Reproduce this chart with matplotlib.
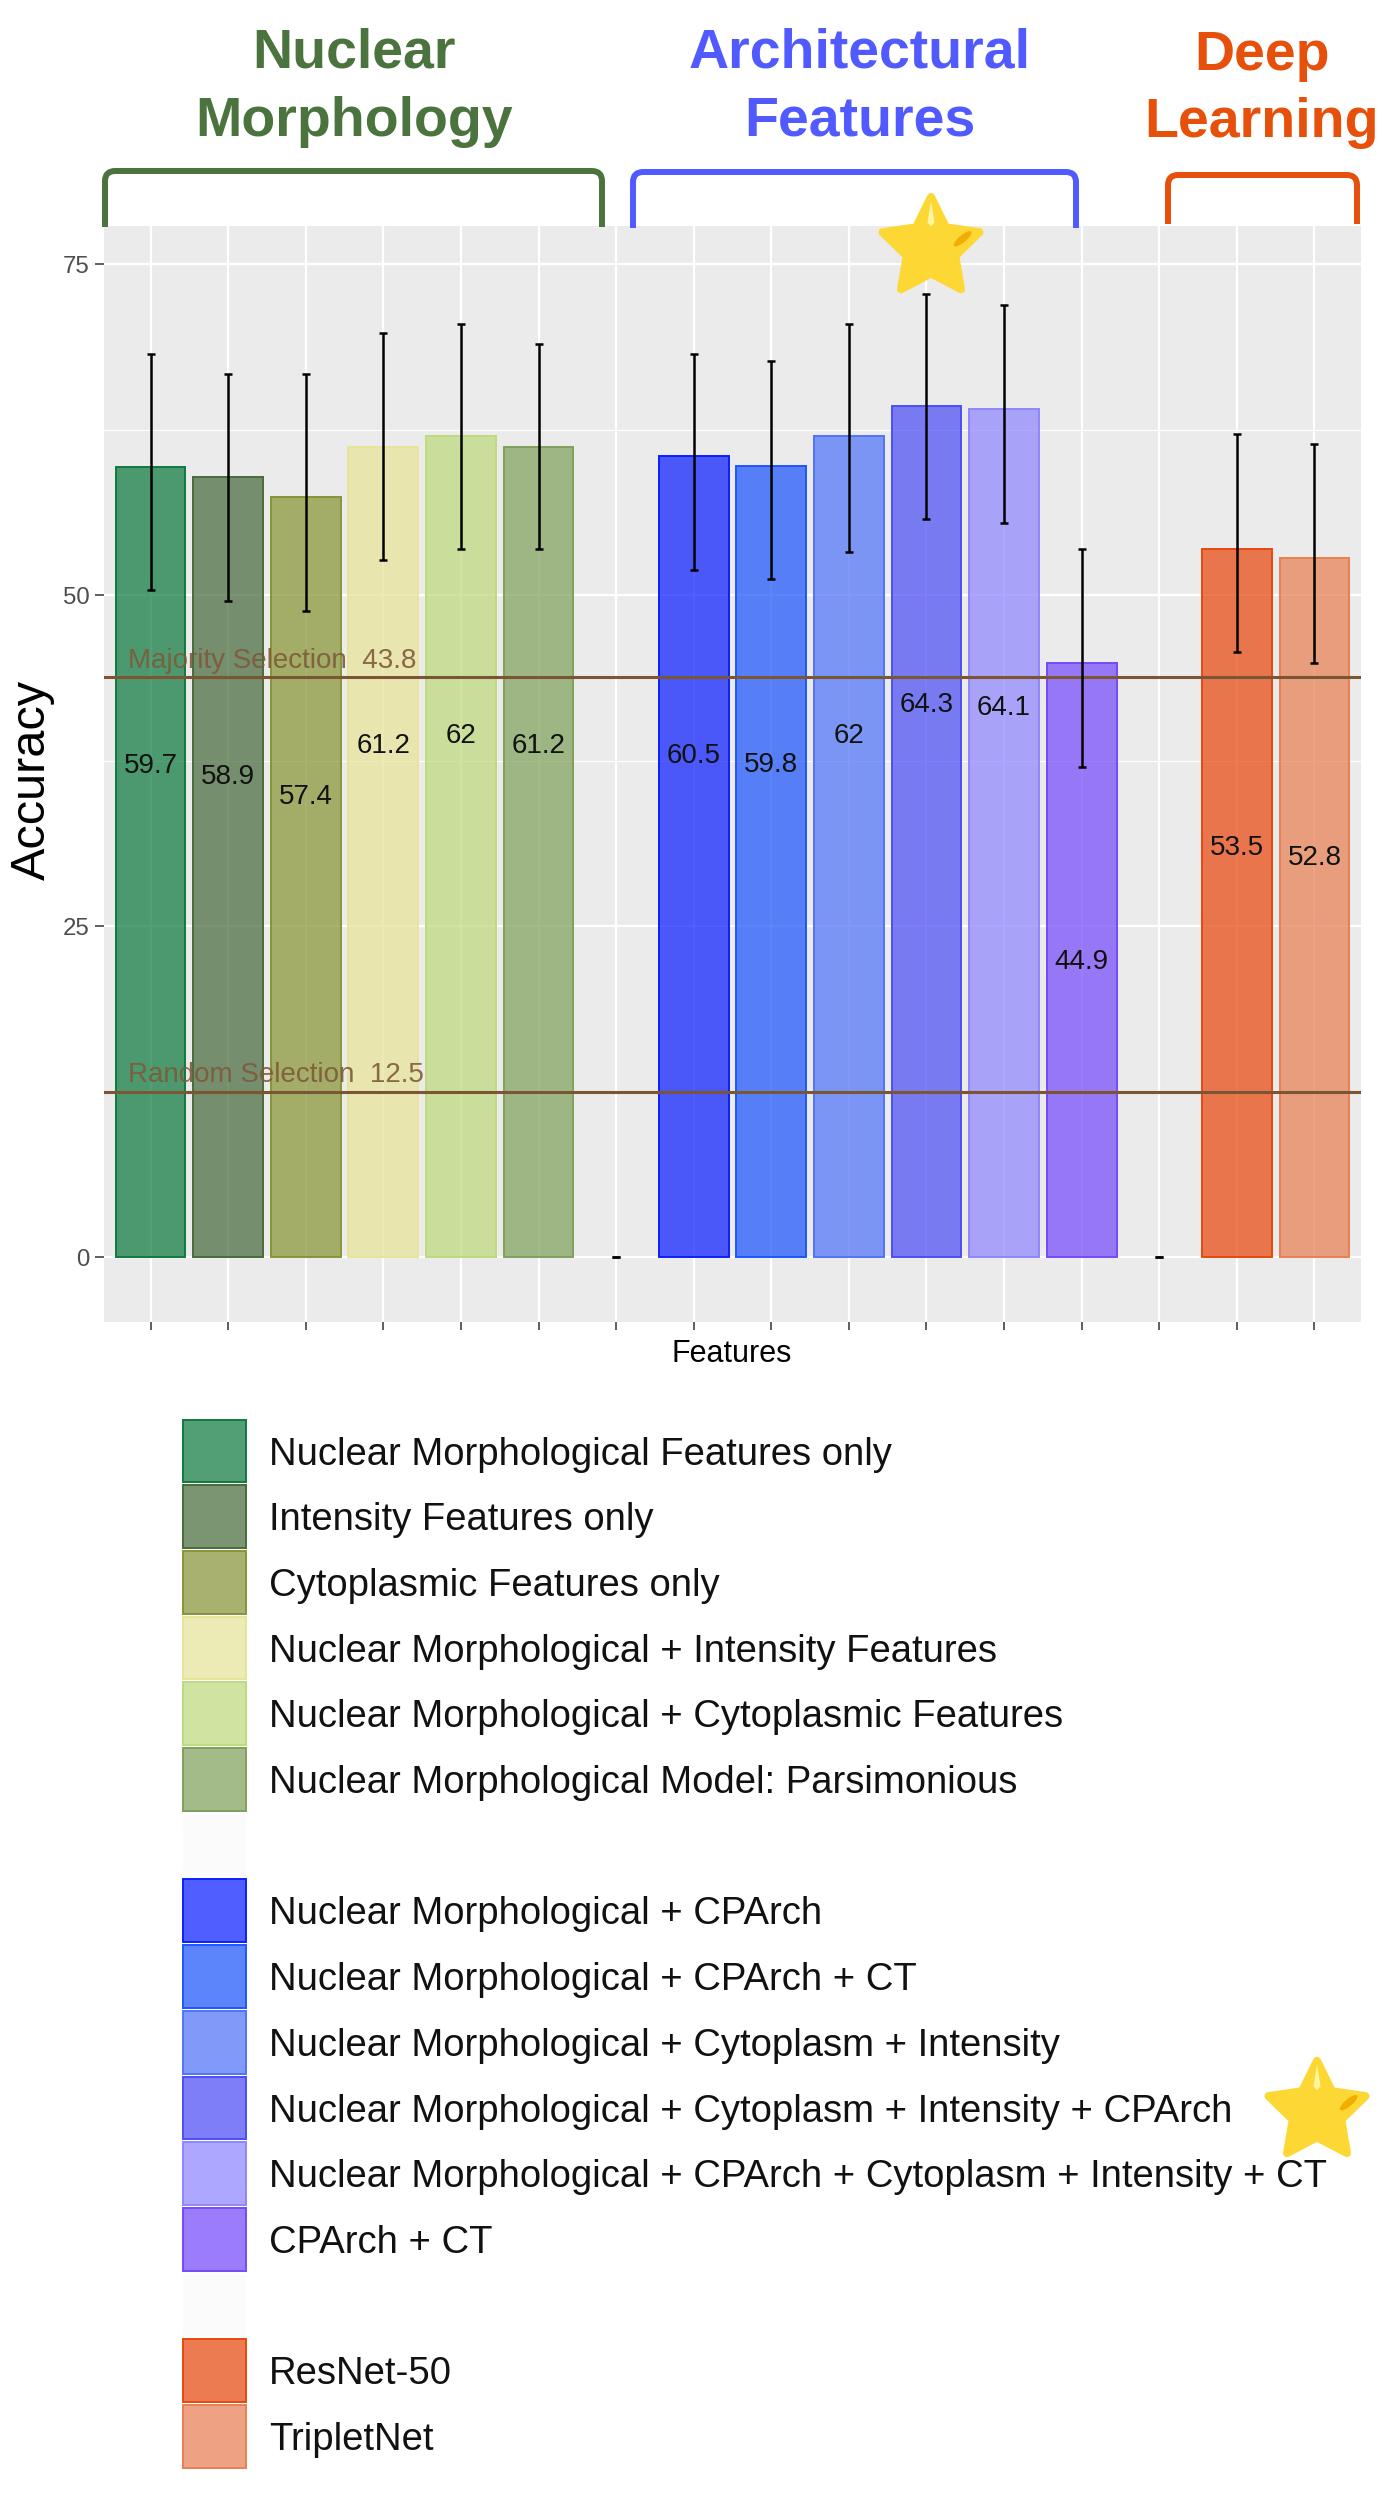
import matplotlib
matplotlib.use("Agg")
import matplotlib.pyplot as plt
import numpy as np
from matplotlib.patches import Rectangle, Polygon, PathPatch
from matplotlib.path import Path
from matplotlib.transforms import offset_copy
from matplotlib.ticker import FixedLocator
from matplotlib.colors import to_rgba

plt.rcParams['font.family'] = ['Liberation Sans', 'DejaVu Sans']

# ---------------- data ----------------
categories = [
    "Nuclear Morphological Features only",
    "Intensity Features only",
    "Cytoplasmic Features only",
    "Nuclear Morphological + Intensity Features",
    "Nuclear Morphological + Cytoplasmic Features",
    "Nuclear Morphological Model: Parsimonious",
    "",
    "Nuclear Morphological + CPArch",
    "Nuclear Morphological + CPArch + CT",
    "Nuclear Morphological + Cytoplasm + Intensity",
    "Nuclear Morphological + Cytoplasm + Intensity + CPArch",
    "Nuclear Morphological + CPArch + Cytoplasm + Intensity + CT",
    "CPArch + CT",
    "",
    "ResNet-50",
    "TripletNet",
]
accuracy = [59.7, 58.9, 57.4, 61.2, 62.0, 61.2, 0.0,
            60.5, 59.8, 62.0, 64.3, 64.1, 44.9, 0.0,
            53.5, 52.8]
err_low = [50.4, 49.6, 48.8, 52.7, 53.5, 53.5, 0.0,
           51.9, 51.2, 53.3, 55.8, 55.5, 37.0, 0.0,
           45.7, 44.9]
err_high = [68.2, 66.7, 66.7, 69.8, 70.5, 69.0, 0.0,
            68.2, 67.7, 70.5, 72.8, 71.9, 53.5, 0.0,
            62.2, 61.4]
palette = ["#107A40", "#486B3C", "#879536", "#E7E499", "#BEDA7D", "#80A05C", "#FFFFFF",
           "#0C1EFF", "#1D56FC", "#5074F9", "#4C4EF6", "#8F86FF", "#754AF9", "#FFFFFF",
           "#E7480E", "#E78053"]
ref_names = ["Majority Selection", "Random Selection"]
ref_values = [43.8, 12.5]
group_titles = [["Nuclear", "Morphology"], ["Architectural", "Features"], ["Deep", "Learning"]]
group_colors = ["#4A733E", "#505AFF", "#E6500A"]
best_model = "Nuclear Morphological + Cytoplasm + Intensity + CPArch"
y_ticks = [0, 25, 50, 75]
y_minor = [12.5, 37.5, 62.5]
label_drop = 22.4   # value labels placed below bar tops

# ---------------- figure ----------------
W, H = 1385, 2500
fig = plt.figure(figsize=(W / 100, H / 100), dpi=100)

def fx(px):
    return px / W

def fy(py):
    return 1 - py / H

ALPHA = 0.72
ax = fig.add_axes([fx(104), fy(1322), 1257 / W, (1322 - 226) / H])
ax.set_facecolor("#EBEBEB")
x = np.arange(1, len(categories) + 1)
ax.set_xlim(0.4, len(categories) + 0.6)
ax.set_ylim(-4.9, 77.9)
ax.set_xticks(x)
ax.set_xticklabels([""] * len(x))
ax.set_yticks(y_ticks)
ax.yaxis.set_minor_locator(FixedLocator(y_minor))
ax.grid(which="major", color="white", lw=1.6)
ax.grid(which="minor", axis="y", color="white", lw=0.8)
ax.set_axisbelow(True)
for s in ax.spines.values():
    s.set_visible(False)
ax.tick_params(axis="y", which="major", length=6.8, width=1.1, color="#333333",
               labelsize=17.3, labelcolor="#4D4D4D", pad=3.5)
ax.tick_params(axis="x", which="major", length=5.4, width=1.1, color="#333333")
ax.tick_params(which="minor", length=0)

acc = np.array(accuracy)
lo = np.array(err_low)
hi = np.array(err_high)
mask = np.array([c != "" for c in categories])

ax.bar(x[mask], acc[mask], width=0.9,
       color=[to_rgba(c, ALPHA) for c, m in zip(palette, mask) if m],
       edgecolor=[c for c, m in zip(palette, mask) if m], linewidth=1.4, zorder=2)

for name, val in zip(ref_names, ref_values):
    ax.axhline(val, color="#7A5634", lw=2.2, zorder=3)
    ax.text(0.708, val + 0.7, f"{name}  {val}", fontsize=20, color="#7E5A3A",
            alpha=0.9, ha="left", va="baseline", zorder=4)

ax.errorbar(x, acc, yerr=[acc - lo, hi - acc], fmt="none", ecolor="black",
            elinewidth=1.8, capsize=2.9, capthick=1.8, zorder=5)

lab_tr = offset_copy(ax.transData, fig=fig, x=0, y=-9.9, units="dots")
for xi, v, m in zip(x, acc, mask):
    if m:
        ax.text(xi, v - label_drop, f"{v:g}", fontsize=20, color="#111111",
                ha="center", va="baseline", transform=lab_tr, zorder=6)

fig.text(fx(32), fy(780), "Accuracy", rotation=90, fontsize=35,
         ha="center", va="center")
fig.text(fx(732), fy(1362), "Features", fontsize=22, ha="center", va="baseline")

# ---------------- group titles and brackets ----------------
title_x = [354, 860, 1262]
title_base = [(68, 136), (68, 136), (70, 137)]
for lines, cx, (b1, b2), col in zip(group_titles, title_x, title_base, group_colors):
    fig.text(fx(cx), fy(b1), lines[0], fontsize=40, fontweight="bold", color=col,
             ha="center", va="baseline")
    fig.text(fx(cx), fy(b2), lines[1], fontsize=40, fontweight="bold", color=col,
             ha="center", va="baseline")

brackets = [(105, 602, 171, 227), (633, 1076, 172, 228), (1168, 1357, 175, 224)]
for (xl, xr, yt, yb), col in zip(brackets, group_colors):
    r = 10
    pts = [(xl, yb), (xl, yt + r), (xl, yt), (xl + r, yt),
           (xr - r, yt), (xr, yt), (xr, yt + r), (xr, yb)]
    codes = [Path.MOVETO, Path.LINETO, Path.CURVE3, Path.CURVE3,
             Path.LINETO, Path.CURVE3, Path.CURVE3, Path.LINETO]
    path = Path([(fx(a), fy(b)) for a, b in pts], codes)
    fig.add_artist(PathPatch(path, facecolor="none", edgecolor=col, lw=4.3,
                             transform=fig.transFigure, capstyle="butt",
                             joinstyle="round"))

# ---------------- stars ----------------
def poly_px(pts, **kw):
    return Polygon([(fx(a), fy(b)) for a, b in pts], closed=True,
                   transform=fig.transFigure, **kw)

def draw_star(cx, cy, R):
    pts = []
    for k in range(10):
        ang = np.pi / 2 + k * np.pi / 5
        rr = R if k % 2 == 0 else R * 0.5
        pts.append((cx + rr * np.cos(ang), cy - rr * np.sin(ang)))
    fig.add_artist(poly_px(pts, facecolor="#FDD835", edgecolor="#FDD835",
                           lw=5.8, joinstyle="round"))
    # highlight on the top arm
    hl = [(cx, cy - 0.93 * R), (cx - 0.07 * R, cy - 0.5 * R),
          (cx, cy - 0.42 * R), (cx + 0.07 * R, cy - 0.5 * R)]
    fig.add_artist(poly_px(hl, facecolor="#FFF59D", edgecolor="none"))
    # shading on the right arm
    t = np.linspace(0, 2 * np.pi, 40)
    a, b, th = 0.22 * R, 0.07 * R, np.deg2rad(-40)
    ex = cx + 0.62 * R + a * np.cos(t) * np.cos(th) - b * np.sin(t) * np.sin(th)
    ey = cy - 0.18 * R + a * np.cos(t) * np.sin(th) + b * np.sin(t) * np.cos(th)
    fig.add_artist(poly_px(list(zip(ex, ey)), facecolor="#F2AE00", edgecolor="none"))

draw_star(931, 248, 51)

# ---------------- legend ----------------
key_top0, key_h = 1418, 65.7
for i, (lab, col) in enumerate(zip(categories, palette)):
    top = key_top0 + i * key_h
    if lab == "":
        fig.add_artist(Rectangle((fx(183), fy(top + key_h - 1.5)), 63 / W, (key_h - 3) / H,
                                 transform=fig.transFigure, facecolor="#FBFBFB",
                                 edgecolor="none"))
        continue
    fig.add_artist(Rectangle((fx(183), fy(top + key_h - 1.5)), 63 / W, (key_h - 3) / H,
                             transform=fig.transFigure, facecolor=to_rgba(col, ALPHA),
                             edgecolor=col, lw=1.4))
    fig.text(fx(269), fy(top + key_h / 2 + 13.7), lab, fontsize=27.5,
             color="#111111", ha="left", va="baseline")
    if lab == best_model:
        draw_star(1317, top + key_h / 2 + 4, 51)

fig.savefig("out.png", dpi=100, facecolor="white")
